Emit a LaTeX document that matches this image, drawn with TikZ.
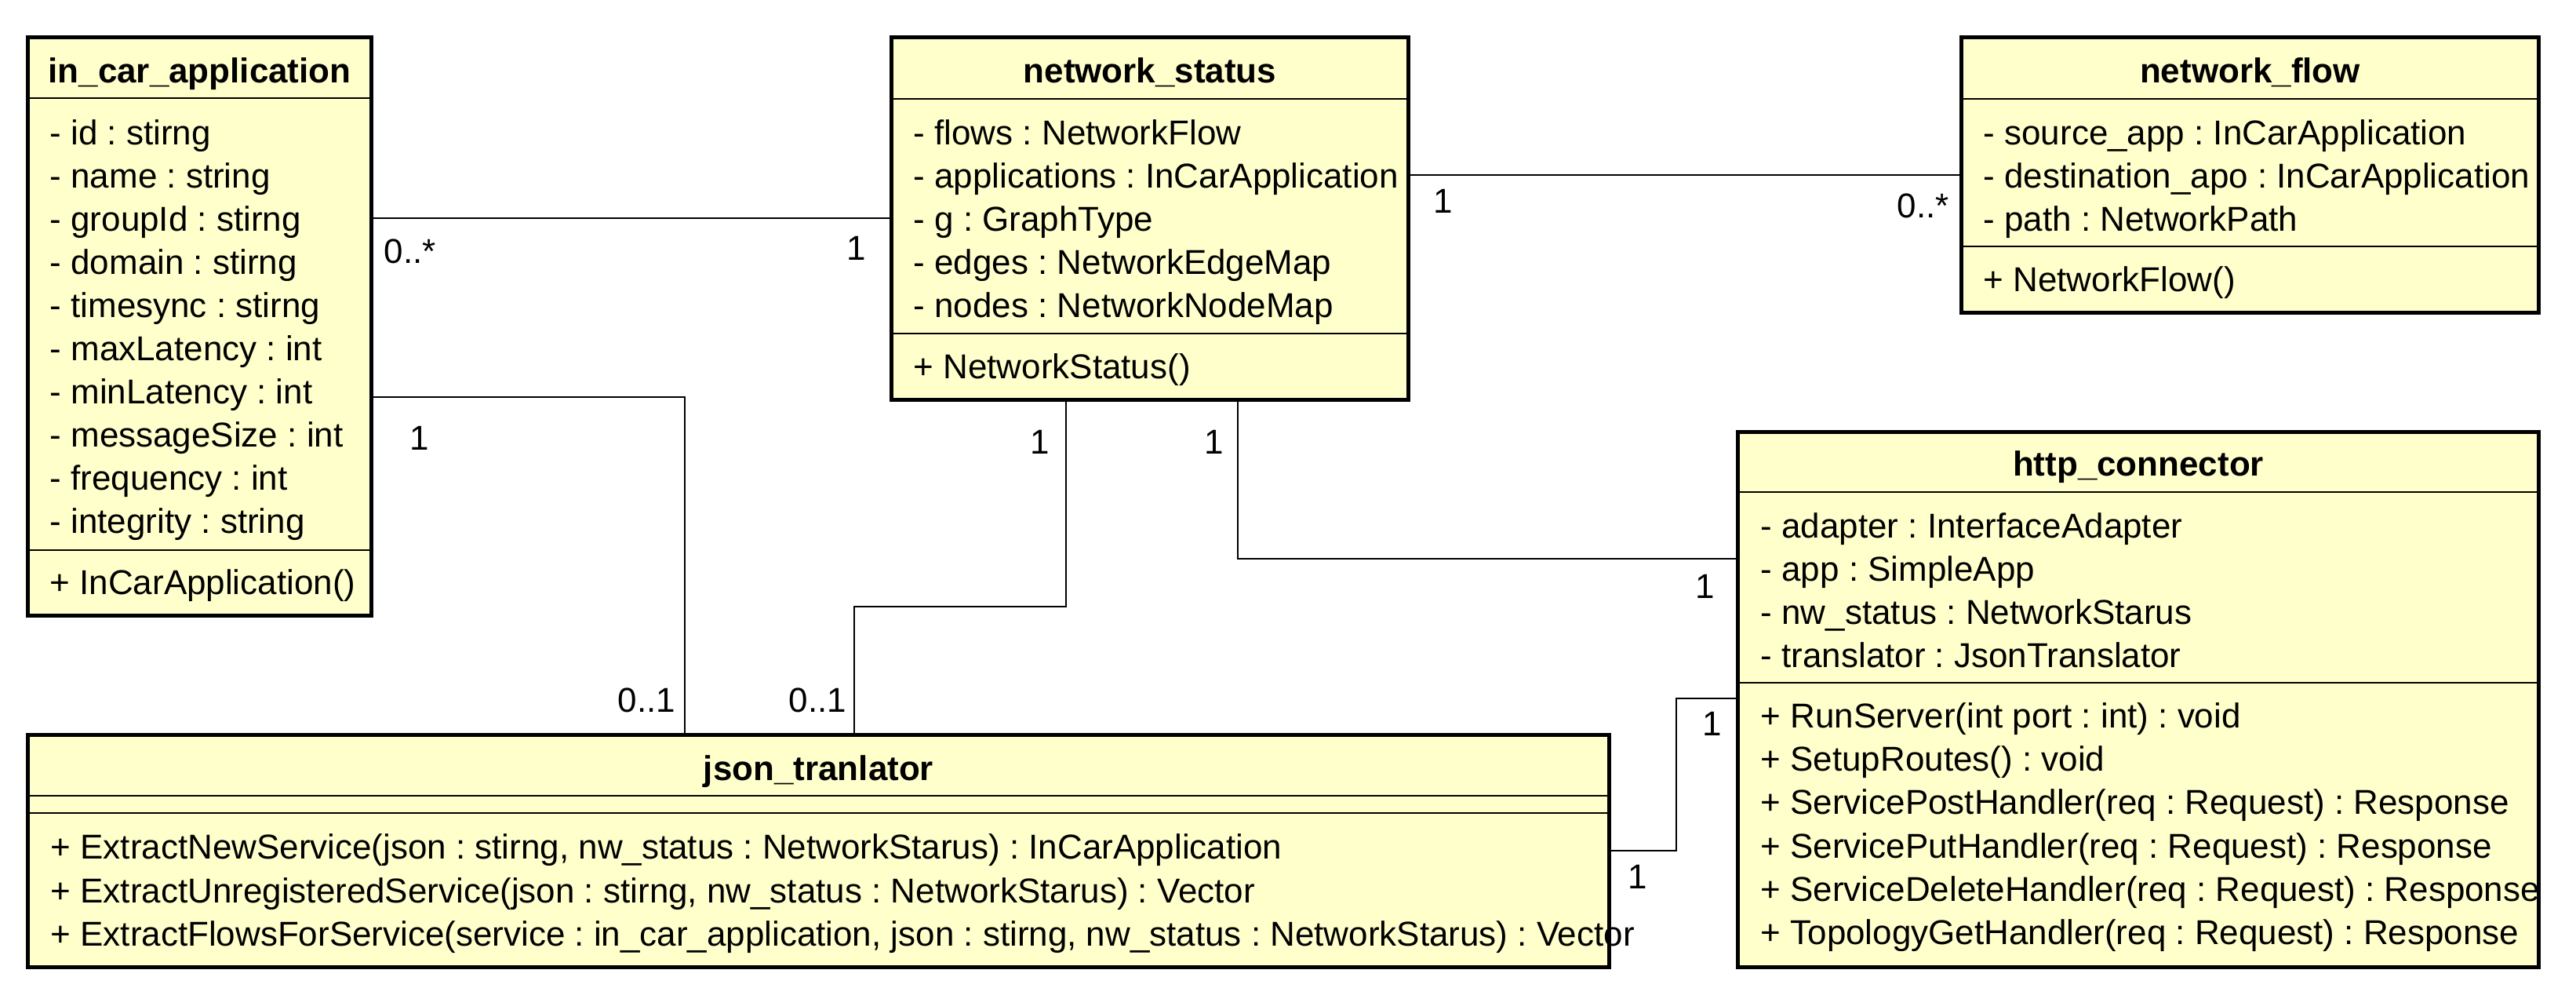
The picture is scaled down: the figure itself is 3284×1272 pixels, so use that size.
\documentclass[tikz,border=0pt]{standalone}
\usepackage{fontspec}
\setmainfont{Liberation Sans}
\definecolor{umlfill}{RGB}{255,255,204}
\frenchspacing
\begin{document}
\frenchspacing
\begin{tikzpicture}[x=0.01cm,y=-0.01cm,
  font=\fontsize{12.5pt}{14pt}\selectfont,
  umlbox/.style={draw=black, fill=umlfill, line width=0.05cm, rectangle, inner sep=0pt, anchor=center},
  sepline/.style={line width=0.022cm},
  conn/.style={line width=0.028cm},
  txt/.style={anchor=base west, inner sep=0pt},
  ttl/.style={anchor=base, inner sep=0pt, font=\fontsize{12.5pt}{14pt}\selectfont\bfseries},
  mult/.style={anchor=base, inner sep=0pt},
  multl/.style={anchor=base west, inner sep=0pt}]
\useasboundingbox[fill=white] (0,0) rectangle (3284,1272);

% ---------- boxes ----------
\node[umlbox, minimum width=4.37cm, minimum height=7.36cm] (ica) at (254.5,416) {};
\node[umlbox, minimum width=6.58cm, minimum height=4.61cm] (ns) at (1466,278.5) {};
\node[umlbox, minimum width=7.35cm, minimum height=3.50cm] (nf) at (2868.5,223) {};
\node[umlbox, minimum width=10.20cm, minimum height=6.81cm] (http) at (2726,891.5) {};
\node[umlbox, minimum width=20.15cm, minimum height=2.95cm] (json) at (1043.5,1084.5) {};

% ---------- separators ----------
\draw[sepline] (ica.west |- 0,125) -- (ica.east |- 0,125);
\draw[sepline] (ica.west |- 0,701) -- (ica.east |- 0,701);
\draw[sepline] (ns.west |- 0,126) -- (ns.east |- 0,126);
\draw[sepline] (ns.west |- 0,425) -- (ns.east |- 0,425);
\draw[sepline] (nf.west |- 0,126) -- (nf.east |- 0,126);
\draw[sepline] (nf.west |- 0,314) -- (nf.east |- 0,314);
\draw[sepline] (http.west |- 0,627) -- (http.east |- 0,627);
\draw[sepline] (http.west |- 0,870) -- (http.east |- 0,870);
\draw[sepline] (json.west |- 0,1014) -- (json.east |- 0,1014);
\draw[sepline] (json.west |- 0,1036) -- (json.east |- 0,1036);

% ---------- titles ----------
\node[ttl] (ica-t) at (254.5,105) {in\_car\_application};
\node[ttl] (ns-t) at (1466,105) {network\_status};
\node[ttl] (nf-t) at (2868.5,105) {network\_flow};
\node[ttl] (http-t) at (2726,606) {http\_connector};
\node[ttl] (json-t) at (1043.5,994) {json\_tranlator};

% ---------- in_car_application ----------
\foreach \t [count=\i] in {{- id : stirng},{- name : string},{- groupId : stirng},{- domain : stirng},{- timesync : stirng},{- maxLatency : int},{- minLatency : int},{- messageSize : int},{- frequency : int},{- integrity : string}}
  \node[txt] (ica-a\i) at (63,{129+55*\i}) {\t};
\node[txt] (ica-m1) at (63,757) {+ InCarApplication()};

% ---------- network_status ----------
\foreach \t [count=\i] in {{- flows : NetworkFlow},{- applications : InCarApplication},{- g : GraphType},{- edges : NetworkEdgeMap},{- nodes : NetworkNodeMap}}
  \node[txt] (ns-a\i) at (1164,{129+55*\i}) {\t};
\node[txt] (ns-m1) at (1164,482) {+ NetworkStatus()};

% ---------- network_flow ----------
\foreach \t [count=\i] in {{- source\_app : InCarApplication},{- destination\_apo : InCarApplication},{- path : NetworkPath}}
  \node[txt] (nf-a\i) at (2528,{129+55*\i}) {\t};
\node[txt] (nf-m1) at (2528,371) {+ NetworkFlow()};

% ---------- http_connector ----------
\foreach \t [count=\i] in {{- adapter : InterfaceAdapter},{- app : SimpleApp},{- nw\_status : NetworkStarus},{- translator : JsonTranslator}}
  \node[txt] (http-a\i) at (2244,{630+55*\i}) {\t};
\foreach \t [count=\i] in {{+ RunServer(int port : int) : void},{+ SetupRoutes() : void},{+ ServicePostHandler(req : Request) : Response},{+ ServicePutHandler(req : Request) : Response},{+ ServiceDeleteHandler(req : Request) : Response},{+ TopologyGetHandler(req : Request) : Response}}
  \node[txt] (http-m\i) at (2244,{872+55.3*\i}) {\t};

% ---------- json_tranlator ----------
\node[txt] (json-m1) at (64,1094) {+ ExtractNewService(json : stirng, nw\_status : NetworkStarus) : InCarApplication};
\node[txt] (json-m2) at (64,1150) {+ ExtractUnregisteredService(json : stirng, nw\_status : NetworkStarus) : Vector};
\node[txt] (json-m3) at (64,1205) {+ ExtractFlowsForService(service : in\_car\_application, json : stirng, nw\_status : NetworkStarus) : Vector};

% ---------- connectors ----------
\draw[conn] (ica.east |- 0,278) -- (ns.west |- 0,278);
\draw[conn] (ns.east |- 0,223) -- (nf.west |- 0,223);
\draw[conn] (ica.east |- 0,506) -| (json.north -| 873,0);
\draw[conn] (ns.south -| 1359,0) -- (1359,773) -- (1089,773) -- (json.north -| 1089,0);
\draw[conn] (ns.south -| 1578,0) |- (http.west |- 0,712);
\draw[conn] (json.east |- 0,1084) -- (2137,1084) -- (2137,890) -- (http.west |- 0,890);

% ---------- multiplicities ----------
\node[multl] (m1) at (489,335) {0..*};
\node[mult] (m2) at (1092,331) {1};
\node[mult] (m3) at (1840,271) {1};
\node[multl] (m4) at (2418,277) {0..*};
\node[mult] (m5) at (535,573) {1};
\node[multl] (m6) at (787,907) {0..1};
\node[mult] (m7) at (1326,578) {1};
\node[multl] (m8) at (1005,907) {0..1};
\node[mult] (m9) at (1548,578) {1};
\node[mult] (m10) at (2174,762) {1};
\node[mult] (m11) at (2088,1132) {1};
\node[mult] (m12) at (2183,937) {1};
\end{tikzpicture}
\end{document}
